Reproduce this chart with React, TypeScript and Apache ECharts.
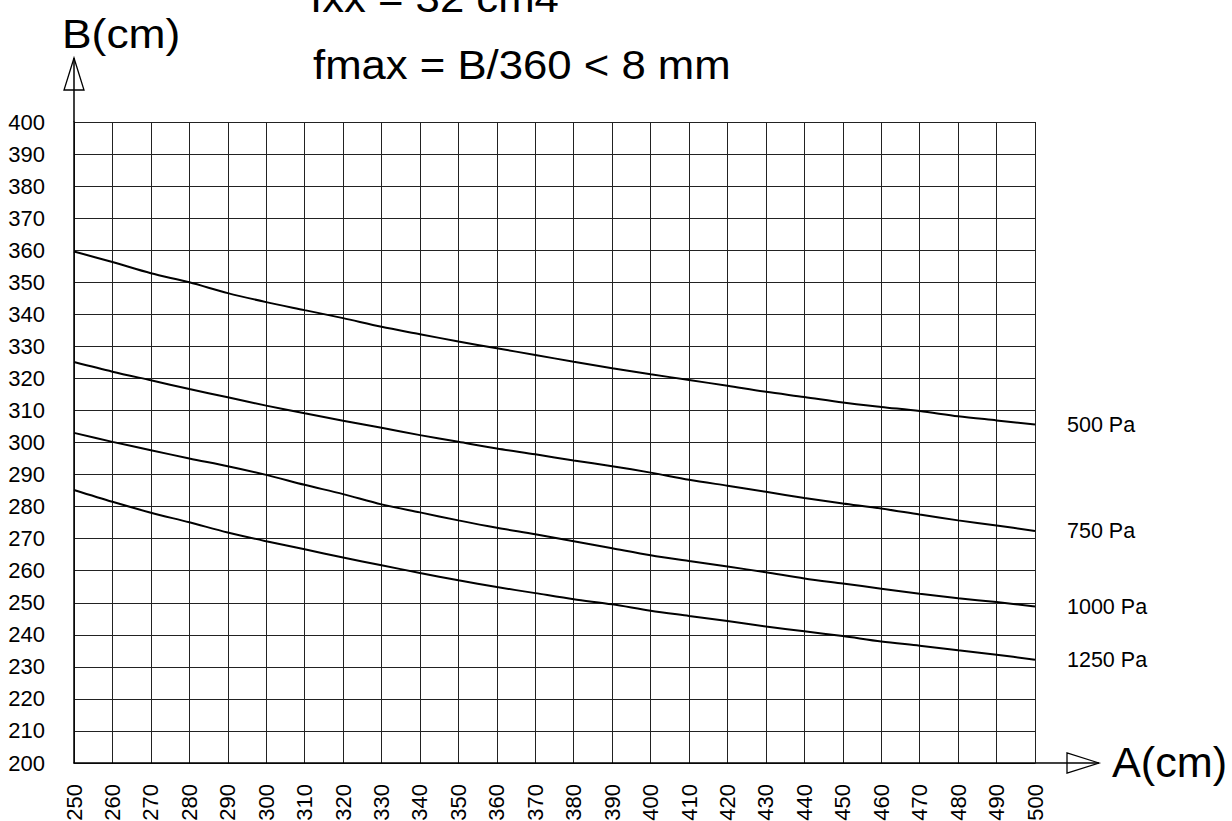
import React, { useEffect, useRef } from "react";
import * as echarts from "echarts";

const aValues = [250, 260, 270, 280, 290, 300, 310, 320, 330, 340, 350, 360, 370, 380, 390, 400, 410, 420, 430, 440, 450, 460, 470, 480, 490, 500];

const b500 = [359.6, 356.3, 352.8, 350.0, 346.6, 343.8, 341.3, 338.8, 336.1, 333.8, 331.5, 329.4, 327.3, 325.2, 323.2, 321.3, 319.5, 317.7, 315.8, 314.2, 312.5, 311.1, 309.8, 308.2, 306.9, 305.6];
const b750 = [325.1, 322.1, 319.4, 316.7, 314.1, 311.5, 309.1, 306.8, 304.6, 302.3, 300.2, 298.1, 296.3, 294.4, 292.6, 290.6, 288.4, 286.5, 284.6, 282.7, 281.0, 279.4, 277.5, 275.7, 274.1, 272.4];
const b1000 = [303.0, 300.2, 297.6, 295.0, 292.6, 289.9, 286.8, 283.9, 280.7, 278.2, 275.7, 273.4, 271.4, 269.2, 267.0, 264.8, 263.0, 261.3, 259.5, 257.6, 256.0, 254.4, 252.8, 251.4, 250.2, 248.8];
const b1250 = [285.2, 281.5, 278.1, 275.1, 271.9, 269.2, 266.7, 264.1, 261.7, 259.3, 257.0, 254.9, 253.0, 251.1, 249.5, 247.5, 245.9, 244.3, 242.6, 241.1, 239.6, 237.9, 236.6, 235.2, 233.8, 232.2];

const seriesNames = ["500 Pa", "750 Pa", "1000 Pa", "1250 Pa"];
const seriesValues = [b500, b750, b1000, b1250];

const xAxisTitle = "A(cm)";
const yAxisTitle = "B(cm)";
const topNote1 = "Ixx = 32 cm4";
const topNote2 = "fmax = B/360 < 8 mm";

const FONT = "'Liberation Sans', Arial, Helvetica, sans-serif";

export default function App() {
  const ref = useRef<HTMLDivElement>(null);

  useEffect(() => {
    if (!ref.current) return;
    const chart = echarts.init(ref.current, undefined, { renderer: "svg" });

    const gridLeft = 74;
    const gridTop = 122;
    const gridRight = 1035;
    const gridBottom = 763;

    const option: any = {
      animation: false,
      backgroundColor: "#ffffff",
      grid: {
        left: gridLeft,
        top: gridTop,
        right: 1232 - gridRight,
        bottom: 821 - gridBottom,
        containLabel: false,
        outerBoundsMode: "none",
      },
      xAxis: {
        type: "value",
        min: 250,
        max: 500,
        interval: 10,
        axisLine: { show: true, lineStyle: { color: "#000", width: 1.5 } },
        axisTick: { show: false },
        axisLabel: {
          rotate: 90,
          margin: 21,
          fontSize: 22,
          color: "#000",
          fontFamily: FONT,
        },
        splitLine: { show: true, lineStyle: { color: "#222", width: 1 } },
      },
      yAxis: {
        type: "value",
        min: 200,
        max: 400,
        interval: 10,
        axisLine: { show: true, lineStyle: { color: "#000", width: 1.5 } },
        axisTick: { show: false },
        axisLabel: {
          margin: 29,
          fontSize: 22,
          color: "#000",
          fontFamily: FONT,
        },
        splitLine: { show: true, lineStyle: { color: "#222", width: 1 } },
      },
      series: seriesNames.map((name, i) => ({
        name,
        type: "line",
        data: aValues.map((a, j) => [a, seriesValues[i][j]]),
        showSymbol: false,
        smooth: 0.3,
        lineStyle: { color: "#000", width: 2 },
        endLabel: {
          show: true,
          formatter: name,
          distance: 32,
          fontSize: 21.5,
          color: "#000",
          fontFamily: FONT,
        },
        z: 5,
      })),
      graphic: [
        {
          type: "line",
          shape: { x1: gridLeft, y1: gridTop, x2: gridLeft, y2: 58 },
          style: { stroke: "#000", lineWidth: 1.5 },
        },
        {
          type: "polygon",
          shape: { points: [[gridLeft, 58], [gridLeft - 10, 90], [gridLeft + 10, 90]] },
          style: { stroke: "#000", fill: "none", lineWidth: 1.3 },
        },
        {
          type: "line",
          shape: { x1: gridRight, y1: gridBottom, x2: 1099, y2: gridBottom },
          style: { stroke: "#000", lineWidth: 1.5 },
        },
        {
          type: "polygon",
          shape: { points: [[1099, gridBottom], [1067, gridBottom - 10], [1067, gridBottom + 10]] },
          style: { stroke: "#000", fill: "none", lineWidth: 1.3 },
        },
        {
          type: "text",
          x: 1112,
          y: 762,
          scaleX: 1.08,
          scaleY: 1.05,
          style: {
            text: xAxisTitle,
            fontSize: 40,
            fontFamily: FONT,
            fill: "#000",
            align: "left",
            verticalAlign: "middle",
          },
        },
        {
          type: "text",
          x: 62,
          y: 34,
          scaleX: 1.2,
          scaleY: 1.08,
          style: {
            text: yAxisTitle,
            fontSize: 37,
            fontFamily: FONT,
            fill: "#000",
            align: "left",
            verticalAlign: "middle",
          },
        },
        {
          type: "text",
          x: 310,
          y: -2,
          scaleX: 1.15,
          scaleY: 1.08,
          style: {
            text: topNote1,
            fontSize: 38,
            fontFamily: FONT,
            fill: "#000",
            align: "left",
            verticalAlign: "middle",
          },
        },
        {
          type: "text",
          x: 313,
          y: 65,
          scaleX: 1.15,
          scaleY: 1.08,
          style: {
            text: topNote2,
            fontSize: 38,
            fontFamily: FONT,
            fill: "#000",
            align: "left",
            verticalAlign: "middle",
          },
        },
      ],
    };

    chart.setOption(option);
    return () => {
      chart.dispose();
    };
  }, []);

  return (
    <div
      ref={ref}
      style={{ position: "absolute", left: 0, top: 0, width: 1232, height: 821, background: "#fff" }}
    />
  );
}
